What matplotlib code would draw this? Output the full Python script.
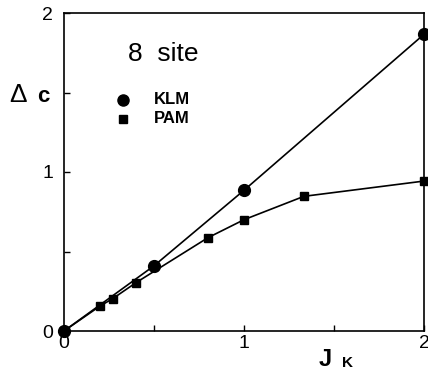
import matplotlib
matplotlib.use("Agg")
import matplotlib.pyplot as plt

plt.rcParams['font.family'] = ['Liberation Sans', 'DejaVu Sans']

# KLM and PAM gaps vs J_K (8 site)
klm_j = [0.0, 0.5, 1.0, 2.0]
klm_gap = [0.0, 0.41, 0.885, 1.866]
pam_j = [0.0, 0.2, 0.27, 0.4, 0.8, 1.0, 1.333, 2.0]
pam_gap = [0.0, 0.157, 0.203, 0.304, 0.587, 0.70, 0.847, 0.943]

W, H = 428, 371
fig = plt.figure(figsize=(W / 100, H / 100), dpi=100)
ax = fig.add_axes([64 / W, 1 - 331 / H, 360 / W, 318 / H])

ax.plot(klm_j, klm_gap, color='black', lw=1.2, marker='o', ms=8.5, clip_on=False, zorder=3)
ax.plot(pam_j, pam_gap, color='black', lw=1.2, marker='s', ms=6, clip_on=False, zorder=3)

ax.set_xlim(0, 2)
ax.set_ylim(0, 2)
ax.set_xticks([0, 1, 2])
ax.set_yticks([0, 1, 2])
ax.set_xticks([0.5, 1.5], minor=True)
ax.set_yticks([0.5, 1.5], minor=True)
ax.tick_params(which='both', direction='in', length=4, width=1, labelsize=14)
ax.tick_params(axis='x', pad=3)
ax.tick_params(axis='y', pad=8)
for s in ax.spines.values():
    s.set_linewidth(1.2)

def px(x, y):
    return x / W, 1 - y / H

# in-plot annotations
fig.text(*px(128, 54), '8  site', fontsize=19, ha='left', va='center')
ax.plot(*px(123, 100), 'o', color='black', ms=8, transform=fig.transFigure, clip_on=False)
ax.plot(*px(123, 119), 's', color='black', ms=6, transform=fig.transFigure, clip_on=False)
fig.text(*px(154, 100), 'KLM', fontsize=12, fontweight='bold', va='center')
fig.text(*px(154, 119), 'PAM', fontsize=12, fontweight='bold', va='center')

# axis labels
fig.text(*px(9, 95), 'Δ', fontsize=19, va='center')
fig.text(*px(37, 97), 'c', fontsize=16, fontweight='bold', va='center')
fig.text(*px(319, 360), 'J', fontsize=17, fontweight='bold', va='center')
fig.text(*px(342, 363), 'K', fontsize=11, fontweight='bold', va='center')

fig.savefig('out.png', dpi=100)
